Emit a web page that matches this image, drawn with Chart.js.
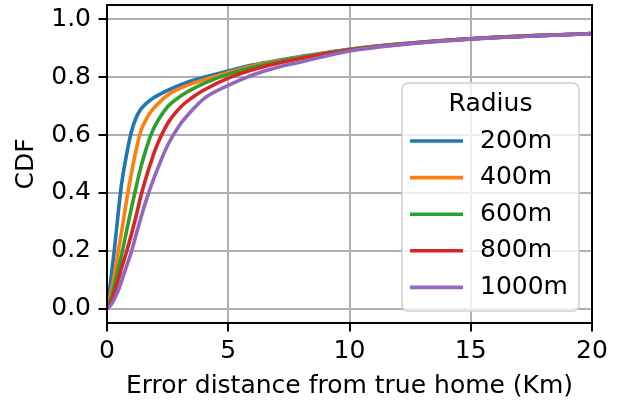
<!DOCTYPE html>
<html>
<head>
<meta charset="utf-8">
<script src="https://cdn.jsdelivr.net/npm/chart.js@4.4.1/dist/chart.umd.min.js"></script>
<style>
html, body { margin: 0; padding: 0; background: #fff; }
#wrap { width: 626px; height: 404px; }
</style>
</head>
<body>
<div id="wrap"><canvas id="cdfchart" width="626" height="404"></canvas></div>
<script>
'use strict';

// error distance (km) and CDF for each search radius
var distKm = [0, 0.1, 0.2, 0.3, 0.4, 0.5, 0.6, 0.8, 1.0, 1.2, 1.4, 1.6, 1.8, 2.0, 2.5, 3, 3.5, 4, 5, 6, 7, 8, 10, 12, 14, 16, 18, 20];
var cdf200  = [0, 0.06, 0.13, 0.20, 0.28, 0.36, 0.43, 0.53, 0.61, 0.66, 0.69, 0.708, 0.722, 0.733, 0.755, 0.773, 0.788, 0.800, 0.822, 0.842, 0.858, 0.872, 0.897, 0.915, 0.928, 0.938, 0.945, 0.951];
var cdf400  = [0, 0.03, 0.07, 0.115, 0.165, 0.215, 0.265, 0.37, 0.465, 0.548, 0.615, 0.652, 0.68, 0.70, 0.738, 0.761, 0.778, 0.791, 0.817, 0.839, 0.856, 0.870, 0.897, 0.915, 0.928, 0.938, 0.945, 0.951];
var cdf600  = [0, 0.02, 0.045, 0.08, 0.115, 0.15, 0.185, 0.265, 0.345, 0.42, 0.49, 0.548, 0.598, 0.635, 0.698, 0.733, 0.758, 0.779, 0.811, 0.835, 0.853, 0.868, 0.896, 0.914, 0.928, 0.938, 0.945, 0.951];
var cdf800  = [0, 0.012, 0.03, 0.055, 0.082, 0.11, 0.14, 0.195, 0.255, 0.32, 0.39, 0.45, 0.503, 0.552, 0.64, 0.694, 0.729, 0.756, 0.797, 0.826, 0.848, 0.865, 0.894, 0.913, 0.927, 0.937, 0.945, 0.951];
var cdf1000 = [0, 0.006, 0.017, 0.032, 0.05, 0.07, 0.095, 0.145, 0.195, 0.255, 0.315, 0.37, 0.42, 0.465, 0.565, 0.635, 0.685, 0.726, 0.772, 0.808, 0.834, 0.853, 0.891, 0.912, 0.926, 0.937, 0.944, 0.951];

var radiusLabels = ['200m', '400m', '600m', '800m', '1000m'];
var lineColors = ['#1f77b4', '#ff7f0e', '#2ca02c', '#d62728', '#9467bd'];
var xTicks = [0, 5, 10, 15, 20];
var yTicks = [0, 0.2, 0.4, 0.6, 0.8, 1.0];

var FONT = 'DejaVu Sans';
Chart.defaults.font.family = FONT;
Chart.defaults.color = '#000';

var series = [cdf200, cdf400, cdf600, cdf800, cdf1000];
var datasets = series.map(function (vals, i) {
    return {
        label: radiusLabels[i],
        data: distKm.map(function (x, j) { return { x: x, y: vals[j] }; }),
        borderColor: lineColors[i],
        backgroundColor: lineColors[i],
        borderWidth: 3.6,
        borderJoinStyle: 'round',
        pointRadius: 0,
        cubicInterpolationMode: 'monotone',
        fill: false,
        order: series.length - 1 - i   // later radius drawn on top
    };
});

// legend box in the lower right corner + full frame around the plot
var radiusKey = {
    id: 'radiusKey',
    afterDraw: function (chart) {
        var ctx = chart.ctx, area = chart.chartArea;
        var w = 177, h = 228;
        var x0 = area.right - 13 - w, y0 = area.bottom - 12 - h;
        ctx.save();
        ctx.beginPath();
        ctx.roundRect(x0, y0, w, h, 6);
        ctx.fillStyle = 'rgba(255,255,255,0.8)';
        ctx.fill();
        ctx.strokeStyle = '#d0d0d0';
        ctx.lineWidth = 1.5;
        ctx.stroke();

        ctx.font = '25px "' + FONT + '"';
        ctx.fillStyle = '#000';
        ctx.textBaseline = 'middle';
        ctx.textAlign = 'center';
        ctx.fillText('Radius', x0 + w / 2, y0 + 21);
        ctx.textAlign = 'left';
        chart.data.datasets.forEach(function (ds, i) {
            var y = y0 + 58 + i * 36.6;
            ctx.strokeStyle = ds.borderColor;
            ctx.lineWidth = 3.6;
            ctx.beginPath();
            ctx.moveTo(x0 + 8, y);
            ctx.lineTo(x0 + 61, y);
            ctx.stroke();
            ctx.fillText(ds.label, x0 + 78, y);
        });

        ctx.strokeStyle = '#000';
        ctx.lineWidth = 2;
        ctx.strokeRect(area.left, area.top, area.right - area.left, area.bottom - area.top);
        ctx.restore();
    }
};

var gridOpts = {
    color: '#b0b0b0',
    lineWidth: 2,
    drawTicks: true,
    tickColor: '#000',
    tickLength: 8.5,
    tickWidth: 2
};

new Chart(document.getElementById('cdfchart'), {
    type: 'line',
    data: { datasets: datasets },
    options: {
        responsive: false,
        animation: false,
        devicePixelRatio: 1,
        layout: { padding: { top: 5, right: 34, left: 0, bottom: 0 } },
        plugins: {
            legend: { display: false },
            tooltip: { enabled: false }
        },
        scales: {
            x: {
                type: 'linear',
                min: 0,
                max: 20,
                afterBuildTicks: function (s) {
                    s.ticks = xTicks.map(function (v) { return { value: v }; });
                },
                afterFit: function (s) {
                    s.height = 81;
                    s.paddingLeft = 0;
                    s.paddingRight = 0;
                },
                ticks: {
                    font: { size: 25 },
                    color: '#000',
                    padding: 5,
                    maxRotation: 0,
                    autoSkip: false,
                    callback: function (v) { return String(v); }
                },
                grid: gridOpts,
                border: { display: true, color: '#000', width: 2 },
                title: {
                    display: true,
                    text: 'Error distance from true home (Km)',
                    font: { size: 25 },
                    color: '#000',
                    padding: { top: 0, bottom: 3 }
                }
            },
            y: {
                type: 'linear',
                min: -0.05,
                max: 1.05,
                afterBuildTicks: function (s) {
                    s.ticks = yTicks.map(function (v) { return { value: v }; });
                },
                afterFit: function (s) {
                    s.width = 107;
                    s.paddingTop = 0;
                    s.paddingBottom = 0;
                },
                ticks: {
                    font: { size: 25 },
                    color: '#000',
                    padding: 7.5,
                    autoSkip: false,
                    callback: function (v) { return v.toFixed(1); }
                },
                grid: gridOpts,
                border: { display: true, color: '#000', width: 2 },
                title: {
                    display: true,
                    text: 'CDF',
                    font: { size: 25 },
                    color: '#000',
                    padding: { top: 11, bottom: 0 }
                }
            }
        }
    },
    plugins: [radiusKey]
});
</script>
</body>
</html>
